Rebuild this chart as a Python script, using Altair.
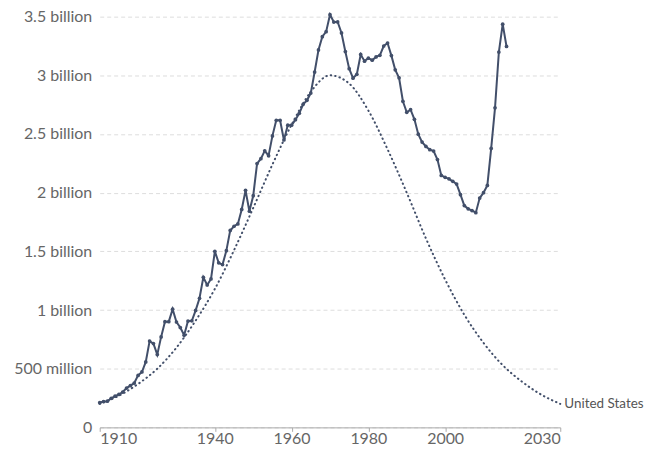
import altair as alt
import pandas as pd

# ---- data ----
start_year = 1910
production_bn = [
    0.210, 0.220, 0.223, 0.248, 0.266, 0.281, 0.301, 0.335, 0.356, 0.378,   # 1910-1919
    0.443, 0.472, 0.558, 0.735, 0.714, 0.620, 0.771, 0.901, 0.901, 1.007,   # 1920-1929
    0.898, 0.851, 0.785, 0.906, 0.908, 0.997, 1.100, 1.279, 1.214, 1.265,   # 1930-1939
    1.500, 1.402, 1.387, 1.506, 1.678, 1.714, 1.734, 1.857, 2.020, 1.842,   # 1940-1949
    1.974, 2.248, 2.290, 2.357, 2.315, 2.484, 2.617, 2.617, 2.449, 2.575,   # 1950-1959
    2.575, 2.622, 2.676, 2.753, 2.787, 2.849, 3.028, 3.216, 3.329, 3.372,   # 1960-1969
    3.517, 3.454, 3.455, 3.361, 3.203, 3.057, 2.976, 3.009, 3.178, 3.121,   # 1970-1979
    3.146, 3.129, 3.157, 3.171, 3.250, 3.275, 3.168, 3.047, 2.979, 2.779,   # 1980-1989
    2.685, 2.707, 2.625, 2.499, 2.431, 2.394, 2.366, 2.355, 2.282, 2.147,   # 1990-1999
    2.131, 2.118, 2.097, 2.073, 1.983, 1.890, 1.862, 1.848, 1.830, 1.954,   # 2000-2009
    2.000, 2.062, 2.377, 2.723, 3.198, 3.436, 3.246,                        # 2010-2016
]
hubbert_years = [1910, 1915, 1920, 1925, 1930, 1935, 1940, 1945, 1950, 1955,
                 1960, 1965, 1970, 1975, 1980, 1985, 1990, 1995, 2000, 2005,
                 2010, 2015, 2020, 2025, 2030]
hubbert_bn = [0.20, 0.27, 0.37, 0.50, 0.68, 0.91, 1.18, 1.51, 1.87, 2.24,
              2.58, 2.86, 3.00, 2.93, 2.70, 2.37, 2.00, 1.61, 1.26, 0.96,
              0.72, 0.53, 0.39, 0.28, 0.20]
x_ticks = [1910, 1940, 1960, 1980, 2000, 2030]
y_ticks = [0, 0.5, 1, 1.5, 2, 2.5, 3, 3.5]
series_name = "United States"

prod = pd.DataFrame({
    "year": [start_year + i for i in range(len(production_bn))],
    "value": production_bn,
})
hub = pd.DataFrame({"year": hubbert_years, "value": hubbert_bn})
lab = pd.DataFrame({"year": [hubbert_years[-1]], "value": [hubbert_bn[-1]],
                    "name": [series_name]})

COLOR = "#424f6a"
FONT = "Lato"

x_enc = alt.X(
    "year:Q",
    scale=alt.Scale(domain=[1910, 2030], nice=False, zero=False),
    axis=alt.Axis(values=x_ticks, format="d", labelFlush=True, grid=False,
                  domainColor="#aaa", tickColor="#aaa", tickSize=4,
                  labelColor="#666", labelFontSize=16, labelFont=FONT,
                  labelPadding=-1, title=None),
)
y_enc = alt.Y(
    "value:Q",
    scale=alt.Scale(domain=[0, 3.5], nice=False),
    axis=alt.Axis(values=y_ticks, domain=False, ticks=False,
                  gridDash=[4, 3], gridColor="#dddddd",
                  labelColor="#666", labelFontSize=16, labelFont=FONT,
                  labelPadding=8, title=None,
                  labelExpr="datum.value == 0 ? '0' : datum.value >= 1 ? datum.value + ' billion' : round(datum.value * 1000) + ' million'"),
)

hub_line = alt.Chart(hub).mark_line(
    color=COLOR, strokeWidth=2, strokeDash=[0.5, 4], strokeCap="round",
    interpolate="monotone",
).encode(x=x_enc, y=y_enc)

prod_line = alt.Chart(prod).mark_line(color=COLOR, strokeWidth=2).encode(
    x="year:Q", y="value:Q")

prod_pts = alt.Chart(prod).mark_circle(color=COLOR, size=14, opacity=1).encode(
    x="year:Q", y="value:Q")

label = alt.Chart(lab).mark_text(
    align="left", baseline="middle", dx=4, fontSize=13.5, font=FONT, color="#555",
).encode(x="year:Q", y="value:Q", text="name:N")

chart = alt.layer(hub_line, prod_line, prod_pts, label).properties(
    width=462, height=412,
    padding={"left": 5, "top": 0, "right": 0, "bottom": 0},
).configure_view(stroke=None)

chart.save("out.html", embed_options={"renderer": "svg", "actions": False})
